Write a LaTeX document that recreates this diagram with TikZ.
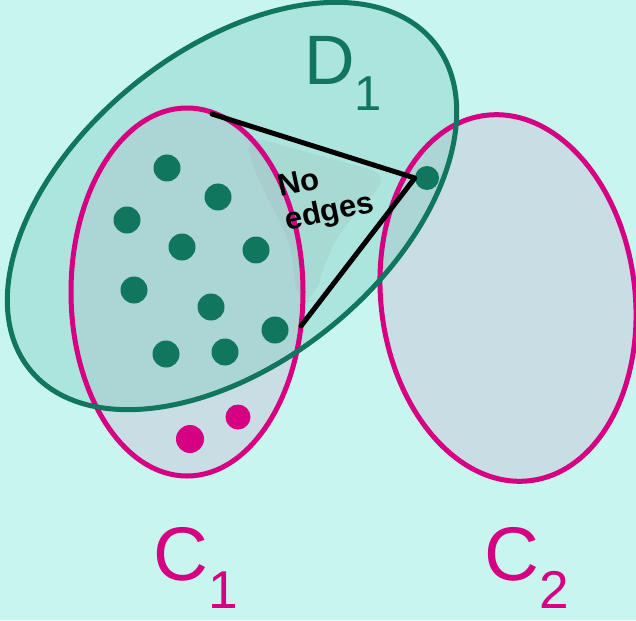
\documentclass[tikz,border=0pt]{standalone}
\usepackage{fontspec}
\setmainfont{Liberation Sans}
\usetikzlibrary{positioning}
\definecolor{bgcyan}{RGB}{200,245,238}
\definecolor{cfill}{RGB}{200,222,228}
\definecolor{dfill}{RGB}{120,200,190}
\definecolor{dgreen}{RGB}{16,118,94}
\definecolor{cmag}{RGB}{214,0,130}

\begin{document}
\begin{tikzpicture}[
  x=1pt, y=-1pt,
  every node/.style={align=left},
  cline/.style={draw=cmag, line width=5pt},
  dline/.style={draw=dgreen, line width=5pt},
  gdot/.style={circle, fill=dgreen, inner sep=0pt, minimum size=27pt},
  mdot/.style={circle, fill=cmag, inner sep=0pt, minimum size=28pt},
  noedge/.style={line width=5pt, line cap=round, line join=round},
  lbl/.style={anchor=base west, inner sep=0pt, font=\fontsize{76}{76}\selectfont}
]
  \useasboundingbox (0,0) rectangle (636,620);
  \fill[bgcyan] (0,0) rectangle (636,620);

  % sets C1, C2 and D1
  \fill[cfill] (187,292) ellipse [x radius=116pt, y radius=184pt];
  \fill[cfill] (508,298) ellipse [x radius=127pt, y radius=184pt, rotate=7];
  \fill[dfill, opacity=0.35] (232,206) ellipse [x radius=260pt, y radius=156pt, rotate=39];
  \fill[gray, opacity=0.1, rounded corners=20pt]
    (245,135) -- (300,150) -- (390,175) -- (345,225) -- (325,260)
    -- (315,300) -- (298,305) -- (290,240) -- (268,200) -- (250,160) -- cycle;
  \draw[cline] (187,292) ellipse [x radius=116pt, y radius=184pt];
  \draw[cline] (508,298) ellipse [x radius=127pt, y radius=184pt, rotate=7];
  \draw[dline] (232,206) ellipse [x radius=260pt, y radius=156pt, rotate=39];

  % vertices
  \foreach \i/\p in {1/{(167,168)}, 2/{(218,197)}, 3/{(127,220)}, 4/{(182,247)},
                     5/{(256,250)}, 6/{(134,290)}, 7/{(211,307)}, 8/{(275,330)},
                     9/{(166,354)}, 10/{(225,352)}}
    \node[gdot] (g\i) at \p {};
  \node[mdot] (m1) at (190,439) {};
  \node[mdot, minimum size=25pt] (m2) at (238,417) {};
  \node[gdot, minimum size=24pt] (v) at (427,178) {};

  % no edges between C1 and v
  \coordinate (t1) at (212,114);
  \coordinate (t2) at (301,326);
  \draw[noedge] (t1) -- (v.west) -- (t2);
  \node[rotate=12, inner sep=0pt, font=\bfseries\fontsize{31}{34}\selectfont] (ne) at (326,197) {No\\edges};

  % labels
  \node[lbl, text=dgreen, font=\fontsize{70}{70}\selectfont] (dlab) at (304,85) {D\textsubscript{1}};
  \node[lbl, text=cmag] (c1lab) at (153,580) {C\textsubscript{1}};
  \node[lbl, text=cmag] (c2lab) at (484,580) {C\textsubscript{2}};
\end{tikzpicture}
\end{document}
